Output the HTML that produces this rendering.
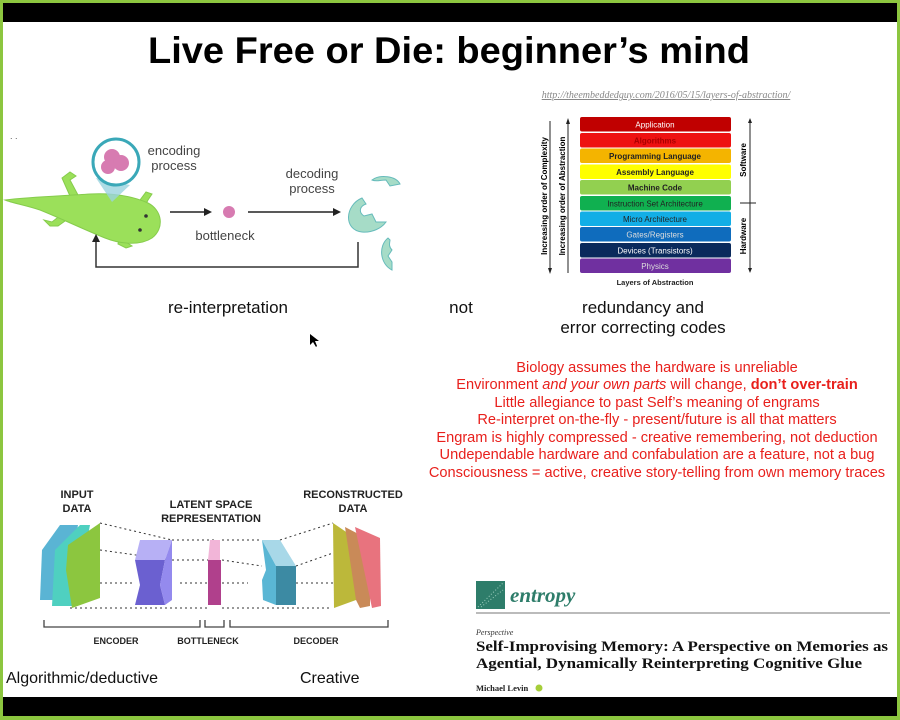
<!DOCTYPE html>
<html><head><meta charset="utf-8"><style>
html,body{margin:0;padding:0;width:900px;height:720px;overflow:hidden;background:#fff}
svg{display:block}
text{font-family:"Liberation Sans",sans-serif}
.serif{font-family:"Liberation Serif",serif}
</style></head><body>
<svg width="900" height="720" viewBox="0 0 900 720" xmlns="http://www.w3.org/2000/svg">
<rect width="900" height="720" fill="#8cc63f"/>
<rect x="3" y="3" width="894" height="713" fill="#fff"/>
<rect x="3" y="3" width="894" height="19" fill="#000"/>
<rect x="3" y="697" width="894" height="19" fill="#000"/>

<text x="449" y="63" text-anchor="middle" font-size="37" font-weight="bold" textLength="602" lengthAdjust="spacingAndGlyphs">Live Free or Die: beginner’s mind</text>

<!-- salamander diagram -->
<text x="10" y="139" font-size="9" fill="#555">. .</text>
<g fill="#9be05a" stroke="#86cc4c" stroke-width="1">
<path d="M70 196 L62 178 L70 172 L76 176 L70 180 L78 195Z"/>
<path d="M62 214 L52 222 L44 220 L50 226 L58 226 L72 216Z"/>
<path d="M140 200 L146 192 L152 194 L148 200 L146 204Z"/>
<path d="M120 232 L118 244 L126 248 L132 246 L126 242 L130 232Z"/>
<path d="M5 200 C30 197 60 196 90 194 C110 193 130 195 148 203 C162 210 165 228 152 238 C140 246 120 244 105 238 C85 230 60 218 40 210 C25 205 12 203 5 200Z"/>
</g>
<circle cx="146" cy="216" r="1.8" fill="#333"/><circle cx="140" cy="230" r="1.8" fill="#333"/>
<polygon points="96,178 130,185 112,202" fill="#9ad3de" opacity="0.8"/>
<circle cx="116" cy="162" r="23" fill="#fff" stroke="#3aa8b8" stroke-width="3"/>
<circle cx="112" cy="157" r="8" fill="#d77bb1"/><circle cx="121" cy="163" r="8" fill="#d77bb1"/><circle cx="108" cy="167" r="7" fill="#d77bb1"/>
<text x="174" y="155" font-size="13" fill="#444" text-anchor="middle">encoding</text>
<text x="174" y="170" font-size="13" fill="#444" text-anchor="middle">process</text>
<line x1="170" y1="212" x2="206" y2="212" stroke="#222" stroke-width="1.5"/><polygon points="212,212 204,208 204,216" fill="#222"/>
<circle cx="229" cy="212" r="6" fill="#d77bb1"/>
<text x="225" y="240" font-size="13" fill="#444" text-anchor="middle">bottleneck</text>
<line x1="248" y1="212" x2="334" y2="212" stroke="#222" stroke-width="1.5"/><polygon points="341,212 333,208 333,216" fill="#222"/>
<text x="312" y="178" font-size="13" fill="#444" text-anchor="middle">decoding</text>
<text x="312" y="193" font-size="13" fill="#444" text-anchor="middle">process</text>
<path d="M362 198 C345 205 343 230 362 232 C372 233 382 228 386 222 L376 222 L372 214 L364 216 C358 212 360 206 366 204Z" fill="#a6dcc7" stroke="#6bb"/>
<path d="M372 180 C380 174 396 176 400 184 L390 186 L386 180 C380 180 376 182 372 180Z" fill="#a6dcc7" stroke="#6bb"/>
<path d="M388 238 C378 246 380 264 392 270 L392 262 L388 256 L392 250 C388 246 390 242 390 240Z" fill="#a6dcc7" stroke="#6bb"/>
<polyline points="358,242 358,267 96,267 96,240" fill="none" stroke="#333" stroke-width="1.5"/>
<polygon points="96,234 92,242 100,242" fill="#222"/>

<!-- layers of abstraction -->
<text x="666" y="98" font-size="10" fill="#888" class="serif" text-anchor="middle" font-style="italic" text-decoration="underline">http://theembeddedguy.com/2016/05/15/layers-of-abstraction/</text>
<g font-size="8" text-anchor="middle" font-weight="bold">
<rect x="580" y="117" width="151" height="14.5" rx="2" fill="#c00000"/><text x="655" y="127.5" fill="#fff" font-weight="normal">Application</text>
<rect x="580" y="133" width="151" height="14.5" rx="2" fill="#ee1111"/><text x="655" y="143.5" fill="#a00">Algorithms</text>
<rect x="580" y="148.5" width="151" height="14.5" rx="2" fill="#f4b400"/><text x="655" y="159" fill="#222">Programming Language</text>
<rect x="580" y="164.5" width="151" height="14.5" rx="2" fill="#ffff00"/><text x="655" y="175" fill="#222">Assembly Language</text>
<rect x="580" y="180" width="151" height="14.5" rx="2" fill="#92d050"/><text x="655" y="190.5" fill="#222">Machine Code</text>
<rect x="580" y="196" width="151" height="14.5" rx="2" fill="#10b050"/><text x="655" y="206.5" fill="#222" font-weight="normal">Instruction Set Architecture</text>
<rect x="580" y="211.5" width="151" height="14.5" rx="2" fill="#12aee6"/><text x="655" y="222" fill="#222" font-weight="normal">Micro Architecture</text>
<rect x="580" y="227" width="151" height="14.5" rx="2" fill="#0f6cbd"/><text x="655" y="237.5" fill="#ddd" font-weight="normal">Gates/Registers</text>
<rect x="580" y="243" width="151" height="14.5" rx="2" fill="#0a2a5c"/><text x="655" y="253.5" fill="#fff" font-weight="normal">Devices (Transistors)</text>
<rect x="580" y="258.5" width="151" height="14.5" rx="2" fill="#7030a0"/><text x="655" y="269" fill="#ddd" font-weight="normal">Physics</text>
<text x="655" y="285" fill="#222" font-size="7.5">Layers of Abstraction</text>
</g>
<line x1="550" y1="121" x2="550" y2="270" stroke="#222"/><polygon points="550,274 548,268 552,268" fill="#222"/>
<line x1="568" y1="122" x2="568" y2="273" stroke="#222"/><polygon points="568,118 566,124 570,124" fill="#222"/>
<text transform="translate(547,196) rotate(-90)" font-size="8" font-weight="bold" text-anchor="middle">Increasing order of Complexity</text>
<text transform="translate(565,196) rotate(-90)" font-size="8" font-weight="bold" text-anchor="middle">Increasing order of Abstraction</text>
<line x1="750" y1="120" x2="750" y2="270" stroke="#222"/>
<line x1="740" y1="203" x2="756" y2="203" stroke="#222"/>
<polygon points="750,118 748,123 752,123" fill="#222"/><polygon points="750,273 748,268 752,268" fill="#222"/>
<text transform="translate(746,160) rotate(-90)" font-size="8" font-weight="bold" text-anchor="middle">Software</text>
<text transform="translate(746,236) rotate(-90)" font-size="8" font-weight="bold" text-anchor="middle">Hardware</text>

<g font-size="17" fill="#111" text-anchor="middle">
<text x="228" y="313">re-interpretation</text>
<text x="461" y="313">not</text>
<text x="643" y="313">redundancy and</text>
<text x="643" y="333">error correcting codes</text>
</g>
<path d="M310 334 L310 345 L313 342 L316 347 L317 346 L315 341 L319 341Z" fill="#000"/>

<g font-size="14.6" fill="#e8201c" text-anchor="middle">
<text x="657" y="372">Biology assumes the hardware is unreliable</text>
<text x="657" y="389">Environment <tspan font-style="italic">and your own parts</tspan> will change, <tspan font-weight="bold">don’t over-train</tspan></text>
<text x="657" y="407">Little allegiance to past Self’s meaning of engrams</text>
<text x="657" y="424">Re-interpret on-the-fly - present/future is all that matters</text>
<text x="657" y="442">Engram is highly compressed - creative remembering, not deduction</text>
<text x="657" y="459">Undependable hardware and confabulation are a feature, not a bug</text>
<text x="657" y="477">Consciousness = active, creative story-telling from own memory traces</text>
</g>

<!-- autoencoder -->
<g font-size="11" font-weight="bold" fill="#222" text-anchor="middle">
<text x="77" y="498">INPUT</text><text x="77" y="512">DATA</text>
<text x="211" y="508">LATENT SPACE</text><text x="211" y="522">REPRESENTATION</text>
<text x="353" y="498">RECONSTRUCTED</text><text x="353" y="512">DATA</text>
</g>
<g stroke="#333" stroke-dasharray="2,3" stroke-width="1">
<line x1="100" y1="523" x2="172" y2="540"/><line x1="100" y1="550" x2="172" y2="560"/><line x1="100" y1="583" x2="135" y2="583"/><line x1="70" y1="608" x2="210" y2="608"/>
<line x1="172" y1="540" x2="215" y2="540"/><line x1="172" y1="560" x2="210" y2="560"/><line x1="180" y1="583" x2="210" y2="583"/>
<line x1="222" y1="540" x2="262" y2="540"/><line x1="222" y1="560" x2="262" y2="566"/><line x1="222" y1="583" x2="248" y2="583"/><line x1="222" y1="608" x2="330" y2="608"/>
<line x1="280" y1="540" x2="333" y2="523"/><line x1="296" y1="566" x2="333" y2="553"/><line x1="296" y1="583" x2="333" y2="583"/>
</g>
<polygon points="42,550 60,525 78,525 64,600 40,600" fill="#5ab4d4"/>
<polygon points="55,550 80,525 90,525 75,606 52,606" fill="#4fd0c0"/>
<polygon points="68,545 100,523 100,598 72,608 66,570" fill="#8cc63f"/>
<polygon points="140,540 172,540 165,560 135,560" fill="#b7b0f5"/>
<polygon points="135,560 165,560 160,585 165,605 135,605 140,585" fill="#6b60d0"/>
<polygon points="165,560 172,540 172,600 165,605 160,585" fill="#948aee"/>
<polygon points="210,540 220,540 220,560 208,560" fill="#f2b5d8"/>
<rect x="208" y="560" width="13" height="45" fill="#b0408c"/>
<polygon points="262,540 280,540 296,566 276,566" fill="#a8d8e8"/>
<polygon points="262,540 276,566 276,605 263,600 262,580 266,570" fill="#5ab6d4"/>
<rect x="276" y="566" width="20" height="39" fill="#3c8aa3"/>
<polygon points="333,523 358,540 356,600 334,608" fill="#bcb83a"/>
<polygon points="345,527 370,540 370,606 360,608 356,600" fill="#c98a58"/>
<polygon points="355,527 380,538 381,606 372,608" fill="#e8737e"/>
<g stroke="#444" stroke-width="1.3" fill="none">
<polyline points="44,620 44,627 200,627 200,620"/>
<polyline points="205,620 205,627 224,627 224,620"/>
<polyline points="230,620 230,627 388,627 388,620"/>
</g>
<g font-size="9" font-weight="bold" fill="#222" text-anchor="middle">
<text x="116" y="644">ENCODER</text><text x="208" y="644">BOTTLENECK</text><text x="316" y="644">DECODER</text>
</g>

<g font-size="16" fill="#111">
<text x="6" y="683">Algorithmic/deductive</text>
<text x="300" y="683">Creative</text>
</g>

<!-- entropy paper -->
<rect x="476" y="581" width="29" height="28" fill="#2e7d6a"/>
<path d="M478 607 L503 583" stroke="#9fd0bf" stroke-width="1" stroke-dasharray="1,2"/>
<path d="M481 607 L503 590" stroke="#9fd0bf" stroke-width="1" stroke-dasharray="1,2"/>
<text x="510" y="602" class="serif" font-size="21" font-style="italic" font-weight="bold" fill="#2e7d6a">entropy</text>
<line x1="476" y1="613" x2="890" y2="613" stroke="#777" stroke-width="1"/>
<text x="476" y="635" class="serif" font-size="8" font-style="italic" fill="#333">Perspective</text>
<text x="476" y="651" class="serif" font-size="14.5" font-weight="bold" fill="#111" textLength="412" lengthAdjust="spacingAndGlyphs">Self-Improvising Memory: A Perspective on Memories as</text>
<text x="476" y="668" class="serif" font-size="14.5" font-weight="bold" fill="#111" textLength="386" lengthAdjust="spacingAndGlyphs">Agential, Dynamically Reinterpreting Cognitive Glue</text>
<text x="476" y="691" class="serif" font-size="8.5" font-weight="bold" fill="#222">Michael Levin</text>
<circle cx="539" cy="688" r="3.5" fill="#a6ce39"/>
</svg>
</body></html>
